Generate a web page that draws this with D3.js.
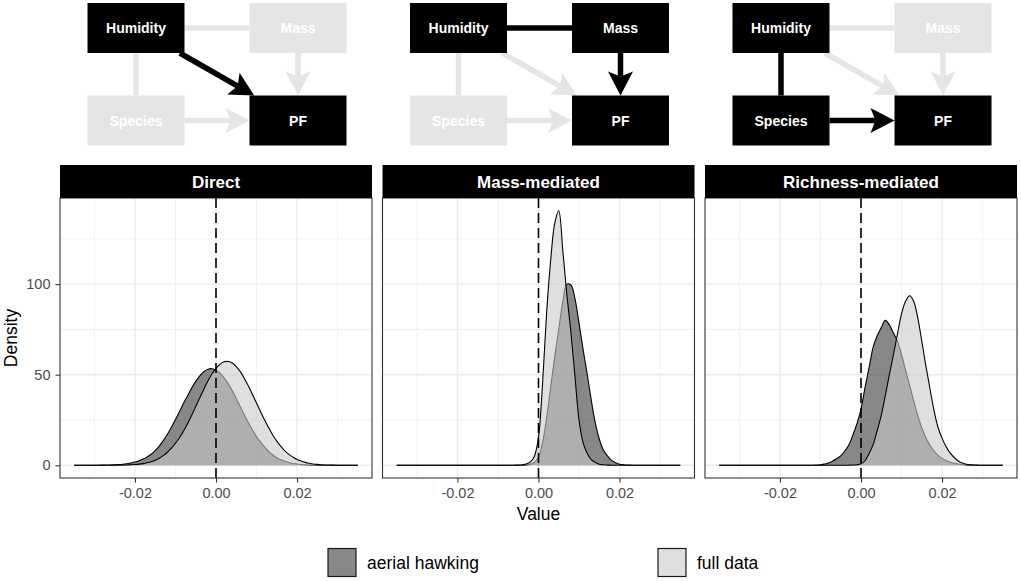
<!DOCTYPE html>
<html>
<head>
<meta charset="utf-8">
<script src="https://cdn.jsdelivr.net/npm/d3@7"></script>
<style>
    body { margin: 0; background: #fff; }
    svg { display: block; font-family: "Liberation Sans", Arial, sans-serif; }
</style>
</head>
<body>
<div id="chart"></div>
<script>
const panels = ["Direct", "Mass-mediated", "Richness-mediated"]
const groups = ["aerial hawking", "full data"]

const xTicks = [-0.02, 0, 0.02]
const xMinor = [-0.03, -0.01, 0.01, 0.03]
const yTicks = [0, 50, 100]
const yMinor = [25, 75, 125]

const valueGrid = [-0.035, -0.034, -0.033, -0.032, -0.031, -0.030, -0.029, -0.028, -0.027, -0.026,
    -0.025, -0.024, -0.023, -0.022, -0.021, -0.020, -0.019, -0.018, -0.017, -0.016,
    -0.015, -0.014, -0.013, -0.012, -0.011, -0.010, -0.009, -0.008, -0.007, -0.006,
    -0.005, -0.004, -0.003, -0.002, -0.001, 0, 0.001, 0.002, 0.003, 0.004,
    0.005, 0.006, 0.007, 0.008, 0.009, 0.010, 0.011, 0.012, 0.013, 0.014,
    0.015, 0.016, 0.017, 0.018, 0.019, 0.020, 0.021, 0.022, 0.023, 0.024,
    0.025, 0.026, 0.027, 0.028, 0.029, 0.030, 0.031, 0.032, 0.033, 0.034, 0.035]

const directAerial = [0, 0, 0.01, 0.01, 0.02, 0.03, 0.05, 0.08, 0.12, 0.18,
    0.27, 0.4, 0.6, 0.88, 1.25, 1.8, 2.5, 3.4, 4.6, 6.1,
    8.1, 10.6, 13.6, 17.1, 21.0, 25.3, 29.7, 34.3, 38.4, 42.6,
    46.3, 49.4, 51.7, 53.0, 53.3, 52.5, 50.8, 48.3, 45.1, 41.2,
    36.8, 32.3, 27.8, 23.5, 19.5, 15.8, 12.8, 10.0, 7.7, 5.8,
    4.2, 3.0, 2.2, 1.5, 1.0, 0.7, 0.46, 0.3, 0.19, 0.12,
    0.07, 0.04, 0.02, 0.01, 0.01, 0, 0, 0, 0, 0, 0]

const directFull = [0, 0, 0, 0, 0, 0.01, 0.01, 0.01, 0.01, 0.02,
    0.03, 0.06, 0.1, 0.16, 0.26, 0.4, 0.61, 0.91, 1.35, 1.95,
    2.78, 3.89, 5.33, 7.2, 9.4, 12.2, 15.2, 18.9, 23.1, 27.6,
    32.4, 37.3, 42.0, 46.5, 50.4, 53.5, 55.8, 57.1, 57.3, 56.5,
    54.5, 51.7, 47.9, 43.7, 39.1, 34.4, 29.6, 25.0, 20.7, 16.7,
    13.3, 10.4, 7.9, 6.0, 4.5, 3.2, 2.3, 1.6, 1.1, 0.72,
    0.47, 0.3, 0.19, 0.12, 0.07, 0.04, 0.02, 0.01, 0.01, 0, 0]

const massAerial = [0, 0, 0, 0, 0, 0, 0, 0, 0, 0,
    0, 0, 0, 0, 0, 0, 0, 0, 0, 0,
    0, 0, 0, 0, 0, 0, 0, 0, 0, 0.01,
    0.02, 0.05, 0.2, 0.6, 1.6, 4.5, 12.5, 26, 43, 60,
    75, 90.5, 100, 99.5, 92, 78.5, 64, 50.5, 36.2, 23.5,
    14.5, 8.4, 5.2, 2.8, 1.4, 0.6, 0.3, 0.12, 0.05, 0.02,
    0, 0, 0, 0, 0, 0, 0, 0, 0, 0, 0]

const massFull = [0, 0, 0, 0, 0, 0, 0, 0, 0, 0,
    0, 0, 0, 0, 0, 0, 0, 0, 0, 0,
    0, 0, 0, 0, 0, 0, 0, 0, 0, 0.05,
    0.1, 0.3, 0.7, 1.9, 5.0, 15.5, 45, 84, 113, 133.5,
    140.5, 118.5, 94, 73.4, 49, 25, 12.5, 6.6, 3.1, 1.6,
    0.6, 0.3, 0.1, 0.05, 0, 0, 0, 0, 0, 0,
    0, 0, 0, 0, 0, 0, 0, 0, 0, 0, 0]

const richAerial = [0, 0, 0, 0, 0, 0, 0, 0, 0, 0,
    0, 0, 0, 0, 0, 0, 0, 0, 0, 0,
    0.01, 0.02, 0.03, 0.05, 0.12, 0.3, 0.65, 1.2, 2.3, 3.6,
    5.2, 7.9, 11.2, 16.7, 23, 31, 43, 54, 65.2, 71.5,
    76, 80, 77.5, 73, 68.5, 61, 52.5, 44, 35.7, 27.5,
    20.7, 15.2, 11.2, 8.0, 5.5, 3.8, 2.6, 1.7, 1.1, 0.7,
    0.4, 0.2, 0.1, 0.05, 0.02, 0, 0, 0, 0, 0, 0]

const richFull = [0, 0, 0, 0, 0, 0, 0, 0, 0, 0,
    0, 0, 0, 0, 0, 0, 0, 0, 0, 0,
    0, 0, 0, 0, 0, 0, 0, 0, 0, 0,
    0, 0.02, 0.05, 0.12, 0.3, 0.8, 2.5, 6.5, 11.4, 19.2,
    27.5, 38.5, 50, 61, 72.5, 83.6, 90.5, 93.6, 90.5, 81.5,
    68.5, 55, 42.5, 30.5, 21, 15, 10.3, 6.8, 4.3, 2.4,
    1.2, 0.6, 0.3, 0.12, 0.05, 0.02, 0, 0, 0, 0, 0]

// path diagrams above the facets
const nodes = ["Humidity", "Mass", "Species", "PF"]
const edges = [
    ["Humidity", "Mass", false],
    ["Humidity", "Species", false],
    ["Mass", "PF", true],
    ["Species", "PF", true],
    ["Humidity", "PF", true]
]
const activeNodes = [["Humidity", "PF"], ["Humidity", "Mass", "PF"], ["Humidity", "Species", "PF"]]
const activeEdges = [["Humidity-PF"], ["Humidity-Mass", "Mass-PF"], ["Humidity-Species", "Species-PF"]]

const series = [[directAerial, directFull], [massAerial, massFull], [richAerial, richFull]]

const width = 1021, height = 581
const panelLeft = 60, panelW = 312, panelGap = 10.5
const stripTop = 165, stripH = 33
const plotTop = 198, plotBottom = 478

const fills = ["#393939", "#cacaca"]
const fillOpacity = 0.6
const faded = "#e5e5e5"

const svg = d3.select("#chart").append("svg")
        .attr("width", width)
        .attr("height", height)

const yMax = d3.max(series.flat(2))
const y = d3.scaleLinear()
        .domain([-0.05 * yMax, 1.05 * yMax])
        .range([plotBottom, plotTop])

const xExt = d3.extent(valueGrid)
const xPad = (xExt[1] - xExt[0]) * 0.05

const styleAxis = (g) => {
    g.select(".domain").remove()
    g.selectAll(".tick line").attr("stroke", "#333").attr("stroke-width", 1.1)
    g.selectAll(".tick text")
            .attr("fill", "#4d4d4d")
            .style("font-size", "14.5px")
            .style("font-family", "'Liberation Sans', Arial, sans-serif")
}

const drawDiagram = (p, cx) => {
    const bw = 97, bh = 50
    const colX = [cx - 80, cx + 82]
    const rowY = [28, 120.5]
    const pos = {}
    nodes.forEach((n, i) => { pos[n] = [colX[i % 2], rowY[Math.floor(i / 2)]] })

    const g = svg.append("g")
    const headLen = 24, headHalf = 12.5, notch = 5

    // faded edges first, highlighted on top
    const sorted = edges.slice().sort((a, b) =>
        activeEdges[p].includes(a[0] + "-" + a[1]) - activeEdges[p].includes(b[0] + "-" + b[1]))

    sorted.forEach(([from, to, directed]) => {
        const on = activeEdges[p].includes(from + "-" + to)
        const col = on ? "#000" : faded
        const [x1, y1] = pos[from], [x2, y2] = pos[to]
        const dx = x2 - x1, dy = y2 - y1
        const clip = Math.min(dx ? (bw / 2) / Math.abs(dx) : Infinity, dy ? (bh / 2) / Math.abs(dy) : Infinity)
        const sx = x1 + dx * clip, sy = y1 + dy * clip
        const ex = x2 - dx * clip, ey = y2 - dy * clip
        const len = Math.hypot(ex - sx, ey - sy)
        const ux = (ex - sx) / len, uy = (ey - sy) / len
        const nx = -uy, ny = ux

        let lx = ex, ly = ey
        if (directed) {
            lx = ex - (headLen - notch) * ux
            ly = ey - (headLen - notch) * uy
        }
        g.append("line")
                .attr("x1", sx).attr("y1", sy)
                .attr("x2", lx).attr("y2", ly)
                .attr("stroke", col)
                .attr("stroke-width", 5.5)

        if (directed) {
            const bx = ex - headLen * ux, by = ey - headLen * uy
            const pts = [
                [ex, ey],
                [bx + headHalf * nx, by + headHalf * ny],
                [lx, ly],
                [bx - headHalf * nx, by - headHalf * ny]
            ]
            g.append("path")
                    .attr("d", "M" + pts.map(d => d.join(",")).join("L") + "Z")
                    .attr("fill", col)
        }
    })

    nodes.forEach(n => {
        const on = activeNodes[p].includes(n)
        g.append("rect")
                .attr("x", pos[n][0] - bw / 2)
                .attr("y", pos[n][1] - bh / 2)
                .attr("width", bw)
                .attr("height", bh)
                .attr("fill", on ? "#000" : faded)
        g.append("text")
                .attr("x", pos[n][0])
                .attr("y", pos[n][1])
                .attr("dy", "0.36em")
                .attr("text-anchor", "middle")
                .attr("fill", "#fff")
                .style("font-size", "14px")
                .style("font-weight", "bold")
                .text(n)
    })
}

panels.forEach((name, p) => {
    const left = panelLeft + p * (panelW + panelGap)
    const x = d3.scaleLinear()
            .domain([xExt[0] - xPad, xExt[1] + xPad])
            .range([left, left + panelW])

    const g = svg.append("g")

    // grid
    g.selectAll(".gx-minor").data(xMinor).enter().append("line")
            .attr("x1", d => x(d)).attr("x2", d => x(d))
            .attr("y1", plotTop).attr("y2", plotBottom)
            .attr("stroke", "#ebebeb").attr("stroke-width", 0.7)
    g.selectAll(".gy-minor").data(yMinor).enter().append("line")
            .attr("x1", left).attr("x2", left + panelW)
            .attr("y1", d => y(d)).attr("y2", d => y(d))
            .attr("stroke", "#ebebeb").attr("stroke-width", 0.7)
    g.selectAll(".gx-major").data(xTicks).enter().append("line")
            .attr("x1", d => x(d)).attr("x2", d => x(d))
            .attr("y1", plotTop).attr("y2", plotBottom)
            .attr("stroke", "#ebebeb").attr("stroke-width", 1.4)
    g.selectAll(".gy-major").data(yTicks).enter().append("line")
            .attr("x1", left).attr("x2", left + panelW)
            .attr("y1", d => y(d)).attr("y2", d => y(d))
            .attr("stroke", "#ebebeb").attr("stroke-width", 1.4)

    const area = d3.area()
            .x(d => x(d[0]))
            .y0(y(0))
            .y1(d => y(d[1]))
            .curve(d3.curveCatmullRom)
    const line = d3.line()
            .x(d => x(d[0]))
            .y(d => y(d[1]))
            .curve(d3.curveCatmullRom)

    series[p].forEach((vals, k) => {
        const pts = valueGrid.map((v, i) => [v, vals[i]])
        g.append("path").datum(pts)
                .attr("d", area)
                .attr("fill", fills[k])
                .attr("fill-opacity", fillOpacity)
        g.append("path").datum(pts)
                .attr("d", line)
                .attr("fill", "none")
                .attr("stroke", "#000")
                .attr("stroke-width", 1.1)
    })

    g.append("line")
            .attr("x1", x(0)).attr("x2", x(0))
            .attr("y1", plotTop).attr("y2", plotBottom)
            .attr("stroke", "#000")
            .attr("stroke-width", 1.6)
            .attr("stroke-dasharray", "10,5")

    g.append("rect")
            .attr("x", left).attr("y", plotTop)
            .attr("width", panelW).attr("height", plotBottom - plotTop)
            .attr("fill", "none")
            .attr("stroke", "#333")
            .attr("stroke-width", 1.1)

    // facet strip
    g.append("rect")
            .attr("x", left).attr("y", stripTop)
            .attr("width", panelW).attr("height", stripH)
            .attr("fill", "#000")
    g.append("text")
            .attr("x", left + panelW / 2)
            .attr("y", 188)
            .attr("text-anchor", "middle")
            .attr("fill", "#fff")
            .style("font-size", "17px")
            .style("font-weight", "bold")
            .text(name)

    const xAxis = g.append("g")
            .attr("transform", "translate(0," + plotBottom + ")")
            .call(d3.axisBottom(x).tickValues(xTicks).tickSize(4.5).tickPadding(5.5)
                .tickFormat(d => d.toFixed(2)))
    styleAxis(xAxis)

    if (p === 0) {
        const yAxis = g.append("g")
                .attr("transform", "translate(" + left + ",0)")
                .call(d3.axisLeft(y).tickValues(yTicks).tickSize(4.5).tickPadding(5))
        styleAxis(yAxis)
    }

    drawDiagram(p, left + panelW / 2)
})

// axis titles
svg.append("text")
        .attr("x", panelLeft + (3 * panelW + 2 * panelGap) / 2)
        .attr("y", 520)
        .attr("text-anchor", "middle")
        .style("font-size", "17.5px")
        .text("Value")

svg.append("text")
        .attr("transform", "translate(17," + (plotTop + plotBottom) / 2 + ") rotate(-90)")
        .attr("text-anchor", "middle")
        .style("font-size", "17.5px")
        .text("Density")

// legend
const legendX = [328, 658]
groups.forEach((grp, k) => {
    svg.append("rect")
            .attr("x", legendX[k]).attr("y", 548.5)
            .attr("width", 28).attr("height", 28)
            .attr("fill", "#fff")
    svg.append("rect")
            .attr("x", legendX[k]).attr("y", 548.5)
            .attr("width", 28).attr("height", 28)
            .attr("fill", fills[k])
            .attr("fill-opacity", fillOpacity)
            .attr("stroke", "#1a1a1a")
            .attr("stroke-width", 1.2)
    svg.append("text")
            .attr("x", legendX[k] + 39)
            .attr("y", 569)
            .style("font-size", "17.5px")
            .text(grp)
})
</script>
</body>
</html>
